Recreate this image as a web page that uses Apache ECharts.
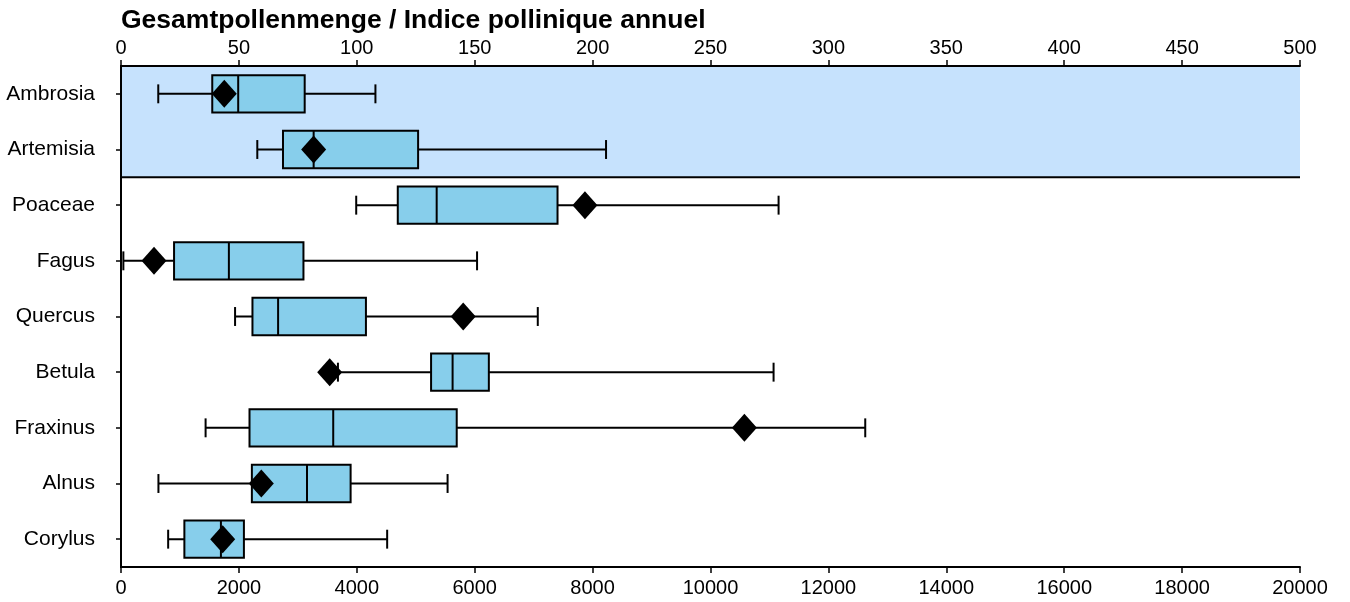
<!DOCTYPE html>
<html>
<head>
<meta charset="utf-8">
<script src="https://cdn.jsdelivr.net/npm/echarts@6/dist/echarts.min.js"></script>
<style>
  html, body { margin: 0; padding: 0; background: #ffffff; }
  #chart { width: 1350px; height: 602px; }
</style>
</head>
<body>
<div id="chart"></div>
<script>
// Taxa, top to bottom
const categories = ['Ambrosia', 'Artemisia', 'Poaceae', 'Fagus', 'Quercus', 'Betula', 'Fraxinus', 'Alnus', 'Corylus'];
// Taxa read against the upper scale (0–500); all others use the lower scale (0–20000)
const upperTaxa = ['Ambrosia', 'Artemisia'];

// Box statistics per taxon, in the order of `categories`
const whiskerLow  = [15.8, 57.8, 3990, 40,   1935, 3680, 1435, 635,  800];
const q1          = [38.7, 68.7, 4695, 900,  2230, 5260, 2180, 2220, 1075];
const median      = [49.7, 81.7, 5355, 1830, 2665, 5625, 3600, 3155, 1695];
const q3          = [77.9, 126,  7405, 3095, 4155, 6240, 5695, 3895, 2085];
const whiskerHigh = [107.9, 205.7, 11155, 6040, 7070, 11070, 12625, 5540, 4515];
const means       = [43.8, 81.7, 7870, 560,  5805, 3540, 10575, 2380, 1725];

// Axis scales
const upperAxis = { min: 0, max: 500, interval: 50 };
const lowerAxis = { min: 0, max: 20000, interval: 2000 };

const FONT = '"Liberation Sans", Arial, sans-serif';

function rowsFor(upper) {
  const rows = [];
  categories.forEach((name, i) => {
    if (upperTaxa.includes(name) === upper) {
      rows.push([i, whiskerLow[i], q1[i], median[i], q3[i], whiskerHigh[i], means[i]]);
    }
  });
  return rows;
}

function makeRenderer(shaded) {
  const lastShaded = Math.max(...upperTaxa.map(n => categories.indexOf(n)));
  return function (params, api) {
    const ci = api.value(0);
    const pt = v => api.coord([v, ci]);
    const band = api.size([0, 1])[1];
    const halfBox = band * 0.335;
    const halfCap = band * 0.17;
    const cs = params.coordSys;
    const lo = pt(api.value(1));
    const b1 = pt(api.value(2));
    const md = pt(api.value(3));
    const b3 = pt(api.value(4));
    const hi = pt(api.value(5));
    const mn = pt(api.value(6));
    const y = lo[1];
    const stroke = { stroke: '#000000', lineWidth: 2, fill: null };
    const children = [];
    if (shaded) {
      // light-blue background for rows on the upper scale
      children.push({
        type: 'rect',
        shape: { x: cs.x, y: y - band / 2 - 0.6, width: cs.width, height: band + 1.2 },
        style: { fill: '#c6e2fd' }
      });
      if (ci === lastShaded) {
        children.push({
          type: 'line',
          shape: { x1: cs.x, y1: y + band / 2, x2: cs.x + cs.width, y2: y + band / 2 },
          style: stroke
        });
      }
    }
    children.push(
      { type: 'line', shape: { x1: lo[0], y1: y, x2: hi[0], y2: y }, style: stroke },
      { type: 'line', shape: { x1: lo[0], y1: y - halfCap, x2: lo[0], y2: y + halfCap }, style: stroke },
      { type: 'line', shape: { x1: hi[0], y1: y - halfCap, x2: hi[0], y2: y + halfCap }, style: stroke },
      {
        type: 'rect',
        shape: { x: b1[0], y: y - halfBox, width: b3[0] - b1[0], height: halfBox * 2 },
        style: { fill: '#87ceeb', stroke: '#000000', lineWidth: 2 }
      },
      { type: 'line', shape: { x1: md[0], y1: y - halfBox, x2: md[0], y2: y + halfBox }, style: stroke },
      {
        type: 'polygon',
        shape: { points: [[mn[0], y - 14], [mn[0] + 12.5, y], [mn[0], y + 14], [mn[0] - 12.5, y]] },
        style: { fill: '#000000' }
      }
    );
    return { type: 'group', children: children };
  };
}

const plainNumber = v => String(v);
const axisLabelStyle = { color: '#000000', fontSize: 20, fontFamily: FONT };
const axisLineStyle = { show: true, lineStyle: { color: '#000000', width: 2 } };
const tickStyle = { show: true, length: 6, lineStyle: { color: '#000000', width: 1.5 } };

const chart = echarts.init(document.getElementById('chart'), null, { renderer: 'canvas' });
chart.setOption({
  animation: false,
  backgroundColor: '#ffffff',
  title: {
    text: 'Gesamtpollenmenge / Indice pollinique annuel',
    left: 121,
    top: 7,
    padding: 0,
    textStyle: { color: '#000000', fontSize: 26.5, fontWeight: 'bold', fontFamily: FONT }
  },
  grid: { left: 121, right: 50, top: 66, bottom: 35, containLabel: false },
  xAxis: [
    {
      type: 'value', position: 'bottom', z: 10,
      min: lowerAxis.min, max: lowerAxis.max, interval: lowerAxis.interval,
      axisLine: axisLineStyle, axisTick: tickStyle, splitLine: { show: false },
      axisLabel: Object.assign({ margin: 11, formatter: plainNumber }, axisLabelStyle)
    },
    {
      type: 'value', position: 'top', z: 10,
      min: upperAxis.min, max: upperAxis.max, interval: upperAxis.interval,
      axisLine: axisLineStyle, axisTick: tickStyle, splitLine: { show: false },
      axisLabel: Object.assign({ margin: 8, formatter: plainNumber }, axisLabelStyle)
    }
  ],
  yAxis: [
    {
      type: 'category', data: categories, inverse: true, z: 10,
      axisLine: axisLineStyle,
      axisTick: { show: true, alignWithLabel: true, length: 5, lineStyle: { color: '#000000', width: 1.5 } },
      axisLabel: Object.assign({}, axisLabelStyle, { margin: 26, fontSize: 21 }),
      splitLine: { show: false }
    },
    {
      type: 'category', data: categories, inverse: true, position: 'right', z: 10,
      axisLine: axisLineStyle, axisTick: { show: false }, axisLabel: { show: false },
      splitLine: { show: false }
    }
  ],
  series: [
    {
      type: 'custom', name: 'upper', xAxisIndex: 1, yAxisIndex: 0,
      data: rowsFor(true),
      encode: { y: 0, x: [1, 2, 3, 4, 5, 6] },
      renderItem: makeRenderer(true),
      clip: false
    },
    {
      type: 'custom', name: 'lower', xAxisIndex: 0, yAxisIndex: 0,
      data: rowsFor(false),
      encode: { y: 0, x: [1, 2, 3, 4, 5, 6] },
      renderItem: makeRenderer(false),
      clip: false
    }
  ]
});
</script>
</body>
</html>
